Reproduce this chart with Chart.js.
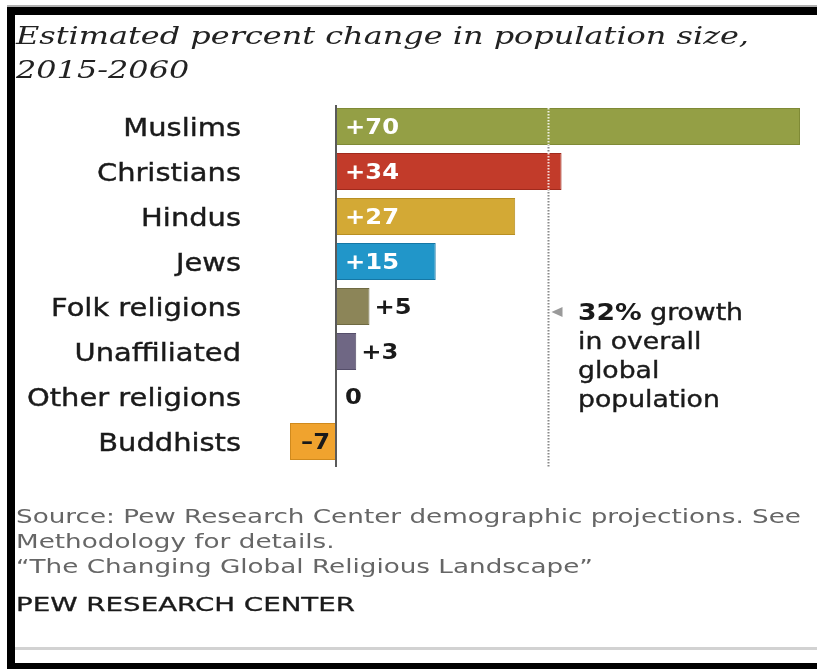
<!DOCTYPE html>
<html>
<head>
<meta charset="utf-8">
<script src="https://cdn.jsdelivr.net/npm/chart.js@4.4.1/dist/chart.umd.min.js"></script>
<style>
  html, body { margin: 0; padding: 0; background: #fff; }
  #wrap { position: relative; width: 817px; height: 669px; }
  canvas { display: block; }
</style>
</head>
<body>
<div id="wrap"><canvas id="chart" width="817" height="669"></canvas></div>
<script>
// Religious groups and their projected change, 2015-2060 (percent)
const categories = ['Muslims', 'Christians', 'Hindus', 'Jews', 'Folk religions', 'Unaffiliated', 'Other religions', 'Buddhists'];
const percentChange = [70, 34, 27, 15, 5, 3, 0, -7];
const globalGrowth = 32;

const barColors = ['#949f45', '#c23b2a', '#d3a935', '#2196c9', '#8c8558', '#6f6784', '#9a9a9a', '#f0a32e'];
const barEdges  = ['#7f8a36', '#a02a1d', '#b88f22', '#1577a5', '#6f6a42', '#554e6a', '#777777', '#d08a1d'];

const titleLines = ['Estimated percent change in population size,', '2015-2060'];
const noteBold = '32%';
const noteLines = [' growth', 'in overall', 'global', 'population'];
const sourceLines = [
  'Source: Pew Research Center demographic projections. See',
  'Methodology for details.',
  '\u201CThe Changing Global Religious Landscape\u201D'
];
const brand = 'PEW RESEARCH CENTER';

const SANS = '"DejaVu Sans", "Liberation Sans", sans-serif';
const SERIF = '"DejaVu Serif", "Liberation Serif", serif';

function scaleToWidth(ctx, font, text, width) {
  ctx.font = font;
  return width / ctx.measureText(text).width;
}

// text drawn wider than its natural width; optional thin outline for weight
function drawStretched(ctx, text, x, y, sx, align, weight) {
  ctx.save();
  ctx.translate(x, y);
  ctx.scale(sx, 1);
  ctx.textAlign = align || 'left';
  ctx.textBaseline = 'alphabetic';
  ctx.fillText(text, 0, 0);
  if (weight) {
    ctx.strokeStyle = ctx.fillStyle;
    ctx.lineWidth = weight;
    ctx.strokeText(text, 0, 0);
  }
  ctx.restore();
}

function formatValue(v) {
  if (v > 0) return '+' + v;
  if (v < 0) return '\u2013' + Math.abs(v);
  return '0';
}

const decorations = {
  id: 'decorations',
  beforeDatasetsDraw(chart) {
    const ctx = chart.ctx;
    const xs = chart.scales.x;
    const px = Math.round(xs.getPixelForValue(globalGrowth)) + 0.5;
    ctx.save();
    ctx.strokeStyle = '#8a8a8a';
    ctx.lineWidth = 2;
    ctx.setLineDash([1.5, 1.5]);
    ctx.beginPath();
    ctx.moveTo(px, chart.chartArea.top + 4);
    ctx.lineTo(px, chart.chartArea.bottom + 3);
    ctx.stroke();
    ctx.restore();
  },
  afterDatasetsDraw(chart) {
    const ctx = chart.ctx;
    const xs = chart.scales.x;
    const meta = chart.getDatasetMeta(0);
    const px = Math.round(xs.getPixelForValue(globalGrowth)) + 0.5;
    const zero = Math.round(xs.getPixelForValue(0));
    const area = chart.chartArea;

    // light dots where the reference line crosses a bar
    ctx.save();
    ctx.strokeStyle = 'rgba(255,255,255,0.85)';
    ctx.lineWidth = 2;
    ctx.setLineDash([1.5, 1.5]);
    meta.data.forEach((el) => {
      const p = el.getProps(['x', 'y', 'base', 'height'], true);
      if (Math.max(p.x, p.base) > px && Math.min(p.x, p.base) < px) {
        ctx.beginPath();
        ctx.moveTo(px, p.y - p.height / 2);
        ctx.lineTo(px, p.y + p.height / 2);
        ctx.stroke();
      }
    });
    ctx.restore();

    // zero axis
    ctx.save();
    ctx.fillStyle = '#5a5a5a';
    ctx.fillRect(zero - 1, area.top + 1, 2, area.bottom - area.top + 2);
    ctx.restore();

    // value labels
    const valueFont = 'bold 21px ' + SANS;
    const valueSX = scaleToWidth(ctx, valueFont, '+70', 54);
    ctx.save();
    ctx.font = valueFont;
    meta.data.forEach((el, i) => {
      const p = el.getProps(['x', 'y', 'base', 'height'], true);
      const v = percentChange[i];
      const txt = formatValue(v);
      const y = p.y + 7.5;
      if (v >= 10) {
        ctx.fillStyle = '#ffffff';
        drawStretched(ctx, txt, zero + 9, y, valueSX, 'left');
      } else if (v < 0) {
        ctx.fillStyle = '#1a1a1a';
        drawStretched(ctx, txt, zero - 6, y, valueSX, 'right');
      } else if (v > 0) {
        ctx.fillStyle = '#1a1a1a';
        drawStretched(ctx, txt, p.x + 5, y, valueSX, 'left');
      } else {
        ctx.fillStyle = '#1a1a1a';
        drawStretched(ctx, txt, zero + 9, y, valueSX, 'left');
      }
    });
    ctx.restore();

    // category labels
    const labelFont = '24px ' + SANS;
    const labelSX = scaleToWidth(ctx, labelFont, 'Other religions', 214);
    ctx.save();
    ctx.font = labelFont;
    ctx.fillStyle = '#1a1a1a';
    const ys = chart.scales.y;
    categories.forEach((c, i) => {
      drawStretched(ctx, c, 241, ys.getPixelForValue(i) + 9, labelSX, 'right', 0.4);
    });
    ctx.restore();

    // annotation beside the reference line
    ctx.save();
    ctx.fillStyle = '#9a9a9a';
    const ay = 312;
    ctx.beginPath();
    ctx.moveTo(px + 3, ay);
    ctx.lineTo(px + 14, ay - 5);
    ctx.lineTo(px + 14, ay + 5);
    ctx.closePath();
    ctx.fill();
    ctx.fillStyle = '#1a1a1a';
    const noteFont = '23px ' + SANS;
    const boldFont = 'bold 23px ' + SANS;
    ctx.font = boldFont;
    const bwRaw = ctx.measureText(noteBold).width;
    ctx.font = noteFont;
    const restRaw = ctx.measureText(noteLines[0]).width;
    const noteSX = 165 / (bwRaw + restRaw);
    ctx.font = boldFont;
    drawStretched(ctx, noteBold, 578, ay + 8, noteSX, 'left');
    ctx.font = noteFont;
    drawStretched(ctx, noteLines[0], 578 + bwRaw * noteSX, ay + 8, noteSX, 'left', 0.4);
    for (let i = 1; i < noteLines.length; i++) {
      drawStretched(ctx, noteLines[i], 578, ay + 8 + i * 29, noteSX, 'left', 0.4);
    }
    ctx.restore();
  },
  afterDraw(chart) {
    const ctx = chart.ctx;
    ctx.save();
    // title
    const titleFont = 'italic 24px ' + SERIF;
    const titleSX = scaleToWidth(ctx, titleFont, titleLines[0], 733);
    ctx.font = titleFont;
    ctx.fillStyle = '#222222';
    drawStretched(ctx, titleLines[0], 16, 44, titleSX, 'left');
    drawStretched(ctx, titleLines[1], 16, 78, titleSX, 'left');

    // source notes
    const footFont = '19px ' + SANS;
    const footSX = scaleToWidth(ctx, footFont, sourceLines[0], 785);
    ctx.font = footFont;
    ctx.fillStyle = '#666666';
    const fy = [523, 548, 573];
    sourceLines.forEach((s, i) => drawStretched(ctx, s, 16, fy[i], footSX, 'left'));
    const brandSX = scaleToWidth(ctx, footFont, brand, 339);
    ctx.fillStyle = '#1a1a1a';
    drawStretched(ctx, brand, 16, 611, brandSX, 'left', 0.3);

    // bottom rule
    ctx.fillStyle = '#d2d2d2';
    ctx.fillRect(15, 647, 802, 3);

    // frame
    ctx.fillStyle = '#b0b0b0';
    ctx.fillRect(7, 5, 810, 2);
    ctx.fillStyle = '#000000';
    ctx.fillRect(7, 7, 810, 8);
    ctx.fillRect(7, 7, 8, 662);
    ctx.fillRect(7, 663, 810, 6);
    ctx.restore();
  }
};

new Chart(document.getElementById('chart'), {
  type: 'bar',
  data: {
    labels: categories,
    datasets: [{
      data: percentChange,
      backgroundColor: barColors,
      borderColor: barEdges,
      borderWidth: (c) => (percentChange[c.dataIndex] === 0 ? 0 : 1),
      borderSkipped: 'start',
      barPercentage: 0.822,
      categoryPercentage: 1
    }]
  },
  options: {
    indexAxis: 'y',
    responsive: false,
    animation: false,
    devicePixelRatio: 1,
    layout: { padding: { left: 290, right: 17, top: 104, bottom: 205 } },
    scales: {
      x: { display: false, min: -7, max: 70 },
      y: { display: false }
    },
    plugins: {
      legend: { display: false },
      tooltip: { enabled: false },
      title: { display: false }
    }
  },
  plugins: [decorations]
});
</script>
</body>
</html>
